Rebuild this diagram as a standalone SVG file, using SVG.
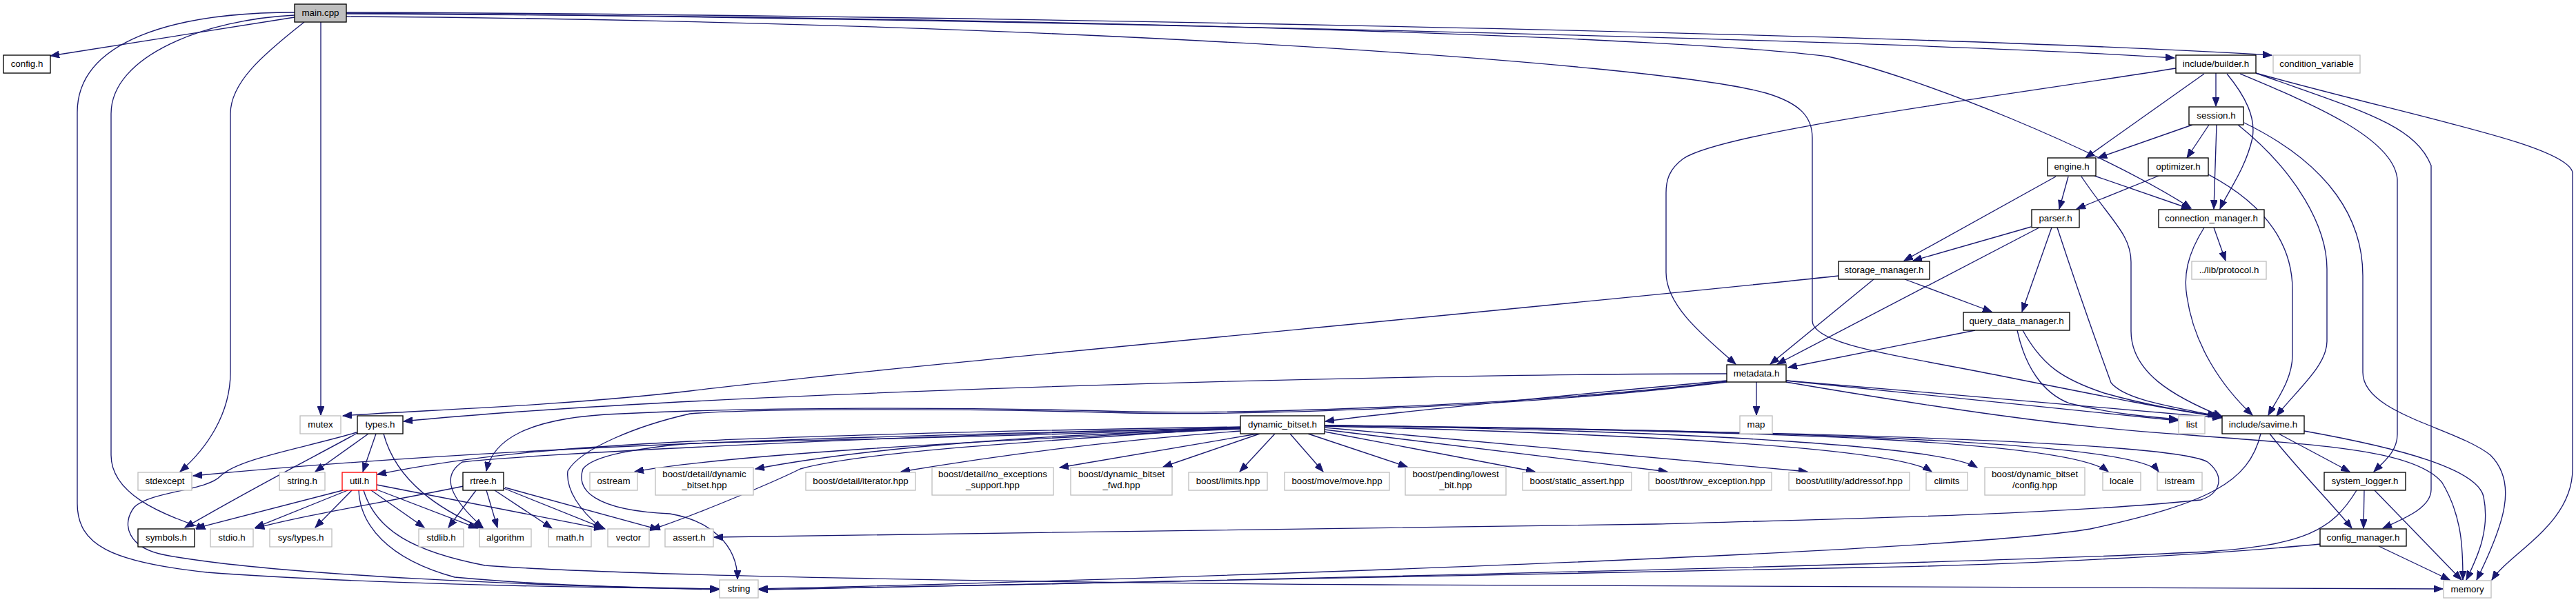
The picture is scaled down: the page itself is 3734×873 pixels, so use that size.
<svg xmlns="http://www.w3.org/2000/svg" width="3734" height="873" viewBox="0 0 3734 873">
<defs>
<style>
.n rect{fill:#fff;stroke:#000;stroke-width:1.33}
.g rect{fill:#fff;stroke:#bfbfbf;stroke-width:1.33}
.r rect{fill:#fff;stroke:#ff0000;stroke-width:1.33}
.m rect{fill:#bfbfbf;stroke:#000;stroke-width:1.33}
text{font-family:"Liberation Sans",Arial,Helvetica,sans-serif;font-size:13.33px;text-anchor:middle;fill:#000}
#edges path{fill:none;stroke:#191970;stroke-width:1.33;marker-end:url(#a)}
</style>
<marker id="a" markerUnits="userSpaceOnUse" markerWidth="14" markerHeight="10" refX="13" refY="5" orient="auto">
<path d="M0,0 L13,5 L0,10 z" fill="#191970" stroke="#191970" stroke-width="1"/>
</marker>
</defs>
<rect width="3734" height="873" fill="#fff"/>
<g id="edges">
<!-- main.cpp -->
<path d="M427,25 L73,81"/>
<path d="M427,18 C250,18 112,60 112,163 L112,730 C112,790 160,815 300,830 C500,845 800,852 1042,854"/>
<path d="M427,22 C300,28 161,80 161,165 L161,660 C161,715 230,745 298,767"/>
<path d="M441,32 C380,80 334,120 334,165 L334,540 C334,600 300,650 261,684"/>
<path d="M465,32 L465,602"/>
<path d="M502,18 C1200,20 2700,45 3293,80"/>
<path d="M502,19 C1300,25 2700,55 3152,84"/>
<path d="M502,20 C1600,25 2450,55 2650,82 C2780,110 3050,220 3176,302"/>
<path d="M502,24 C1500,30 2400,90 2560,135 C2610,150 2627,170 2627,200 L2627,465 C2627,500 2750,515 2900,545 C3050,575 3150,595 3221,605"/>
<!-- builder -->
<path d="M3212,106 L3212,154"/>
<path d="M3195,107 L3023,229"/>
<path d="M3228,107 C3255,140 3270,170 3265,200 C3255,245 3228,280 3218,303"/>
<path d="M3154,99 C2900,140 2500,190 2440,230 C2420,245 2415,260 2415,280 L2415,395 C2415,440 2460,480 2516,528"/>
<path d="M3247,107 C3350,150 3470,200 3475,260 L3475,630 C3475,655 3455,670 3441,684"/>
<path d="M3270,106 C3420,160 3500,180 3524,240 L3524,710 C3524,735 3490,750 3454,766"/>
<path d="M3270,106 C3500,170 3720,210 3729,250 L3729,680 C3729,760 3640,800 3612,841"/>
<!-- session -->
<path d="M3178,181 L3041,229"/>
<path d="M3202,181 L3170,229"/>
<path d="M3213,181 L3209,303"/>
<path d="M3244,181 C3330,250 3373,330 3373,390 L3373,495 C3373,530 3330,565 3300,603"/>
<path d="M3253,178 C3380,240 3425,320 3425,400 L3425,540 C3425,600 3560,620 3610,660 C3650,700 3630,760 3590,841"/>
<!-- engine -->
<path d="M2980,256 L2760,378"/>
<path d="M2998,256 L2985,303"/>
<path d="M3036,255 L3175,303"/>
<path d="M3017,256 C3060,320 3089,340 3089,380 L3089,480 C3089,540 3150,575 3221,604"/>
<!-- optimizer -->
<path d="M3129,255 L3010,303"/>
<path d="M3201,253 C3290,300 3323,360 3323,420 L3323,515 C3323,550 3300,580 3288,602"/>
<!-- parser -->
<path d="M2944,329 L2773,378"/>
<path d="M2956,330 L2576,528"/>
<path d="M2974,330 L2931,452"/>
<path d="M2982,330 C3005,400 3040,500 3060,555 C3080,580 3150,590 3213,603"/>
<!-- connection_manager -->
<path d="M3209,330 L3226,378"/>
<path d="M3195,330 C3170,370 3165,400 3170,430 C3180,500 3220,560 3265,602"/>
<!-- storage_manager -->
<path d="M2665,400 C2200,450 1300,530 1000,567 C800,590 600,595 497,603"/>
<path d="M2716,405 L2566,528"/>
<path d="M2761,405 L2887,452"/>
<!-- query_data_manager -->
<path d="M2863,479 L2592,533"/>
<path d="M2924,479 C2935,530 2960,570 3000,585 C3060,600 3120,605 3157,608"/>
<path d="M2932,479 C2960,530 2990,550 3050,570 C3120,590 3180,598 3220,604"/>
<!-- metadata -->
<path d="M2546,554 L2546,602"/>
<path d="M2589,552 C2800,575 3000,595 3157,610"/>
<path d="M2589,552 C2800,570 3050,590 3220,606"/>
<path d="M2589,554 C2800,590 3000,620 3162,630 C3350,645 3500,650 3540,700 C3570,750 3570,800 3570,841"/>
<path d="M2503,542 C2000,542 1000,570 585,611"/>
<path d="M2503,552 C2300,570 2000,600 1921,611"/>
<path d="M2503,553 C2200,590 1800,600 1638,597 C1400,590 1100,590 900,600 C760,605 714,640 705,683"/>
<path d="M2503,554 C2200,592 1800,602 1638,599 C1400,592 1100,592 1000,600 C925,617 842,650 823,683 C820,710 840,740 873,767"/>
<path d="M1798,619 C1400,625 1100,635 1000,640 C850,648 700,657 547,688"/>
<!-- dynamic_bitset left -->
<path d="M1798,620 C1400,630 800,640 280,690"/>
<path d="M1798,621 C1300,630 750,660 670,670 C640,690 650,720 700,765"/>
<path d="M1798,622 C1400,640 1050,660 920,684"/>
<path d="M1798,621 C1400,635 1100,640 1000,643 C925,650 860,660 845,680 C835,710 860,740 971,745 C1030,755 1069,790 1069,840"/>
<path d="M1798,620 C1500,640 1250,655 1160,680 C1120,700 1000,750 944,768"/>
<path d="M1798,622 C1500,630 1250,650 1095,680"/>
<path d="M1798,625 C1600,640 1450,660 1306,684"/>
<path d="M1823,629 L1536,678"/>
<path d="M1826,629 L1686,677"/>
<path d="M1848,629 L1797,684"/>
<path d="M1870,629 L1918,684"/>
<path d="M1896,629 L2040,677"/>
<path d="M1920,626 L2225,684"/>
<path d="M1920,623 L2417,684"/>
<path d="M1920,620 L2620,684"/>
<path d="M1920,618 C2400,630 2750,650 2800,684"/>
<path d="M1920,617 C2500,625 2820,650 2866,678"/>
<path d="M1920,617 C2600,625 3000,640 3056,684"/>
<path d="M1920,617 C2700,625 3100,645 3129,684"/>
<path d="M1920,617 C2600,625 3150,640 3200,670 C3225,690 3220,715 3190,725 C3000,745 2700,752 2400,760 C1800,770 1200,778 1035,779"/>
<!-- types.h -->
<path d="M518,628 C460,660 380,700 268,765"/>
<path d="M534,629 L457,684"/>
<path d="M545,629 L526,684"/>
<path d="M556,629 C575,700 640,740 700,766"/>
<path d="M517,627 C440,650 345,665 320,690 C300,712 220,712 195,735 C175,760 185,795 240,805 C400,835 800,850 1042,855"/>
<!-- util.h -->
<path d="M497,711 L284,766"/>
<path d="M504,711 L370,765"/>
<path d="M510,711 L457,765"/>
<path d="M538,711 L615,765"/>
<path d="M546,710 L692,766"/>
<path d="M546,703 L874,767"/>
<path d="M520,711 C522,760 560,810 659,837 C800,850 950,853 1042,854"/>
<path d="M527,711 C545,770 600,800 703,820 C900,835 1500,845 2000,848 C2700,852 3300,854 3541,854"/>
<!-- rtree.h -->
<path d="M672,705 C550,730 450,745 370,766"/>
<path d="M690,711 L650,765"/>
<path d="M705,711 L721,765"/>
<path d="M717,711 L800,766"/>
<path d="M730,708 L877,767"/>
<path d="M732,707 L955,768"/>
<!-- include/savime.h -->
<path d="M3303,629 L3406,684"/>
<path d="M3290,629 C3330,680 3380,730 3409,766"/>
<path d="M3340,625 C3480,650 3590,680 3600,720 C3610,770 3590,810 3575,841"/>
<path d="M3277,629 C3260,700 3200,730 3030,767 C2800,805 1500,845 1100,854"/>
<!-- system_logger -->
<path d="M3427,711 L3426,766"/>
<path d="M3442,711 L3568,841"/>
<path d="M3416,711 C3380,770 3340,790 3200,800 C2800,820 1500,848 1100,855"/>
<!-- config_manager -->
<path d="M3448,792 L3551,841"/>
<path d="M3363,789 C3200,805 2900,820 2700,823 C2000,835 1300,850 1100,855"/>
</g>
<g id="main_cpp" class="m"><rect x="427" y="6" width="75" height="26"/><text x="464.5" y="23">main.cpp</text></g>
<g id="config_h" class="n"><rect x="5" y="80" width="68" height="26"/><text x="39" y="97">config.h</text></g>
<g id="builder_h" class="n"><rect x="3154" y="80" width="116" height="26"/><text x="3212" y="97">include/builder.h</text></g>
<g id="condition_variable" class="g"><rect x="3295" y="80" width="126" height="26"/><text x="3358" y="97">condition_variable</text></g>
<g id="session_h" class="n"><rect x="3173" y="155" width="79" height="26"/><text x="3212.5" y="172">session.h</text></g>
<g id="engine_h" class="n"><rect x="2968" y="229" width="70" height="26"/><text x="3003" y="246">engine.h</text></g>
<g id="optimizer_h" class="n"><rect x="3114" y="229" width="87" height="26"/><text x="3157.5" y="246">optimizer.h</text></g>
<g id="parser_h" class="n"><rect x="2945" y="304" width="69" height="26"/><text x="2979.5" y="321">parser.h</text></g>
<g id="connection_manager_h" class="n"><rect x="3129" y="304" width="153" height="26"/><text x="3205.5" y="321">connection_manager.h</text></g>
<g id="protocol_h" class="g"><rect x="3177" y="379" width="108" height="26"/><text x="3231" y="396">../lib/protocol.h</text></g>
<g id="storage_manager_h" class="n"><rect x="2665" y="379" width="132" height="26"/><text x="2731" y="396">storage_manager.h</text></g>
<g id="query_data_manager_h" class="n"><rect x="2846" y="453" width="154" height="26"/><text x="2923" y="470">query_data_manager.h</text></g>
<g id="metadata_h" class="n"><rect x="2503" y="529" width="86" height="25"/><text x="2546" y="546">metadata.h</text></g>
<g id="mutex" class="g"><rect x="435" y="603" width="59" height="26"/><text x="464.5" y="620">mutex</text></g>
<g id="types_h" class="n"><rect x="518" y="603" width="66" height="26"/><text x="551" y="620">types.h</text></g>
<g id="dynamic_bitset_h" class="n"><rect x="1798" y="603" width="122" height="26"/><text x="1859" y="620">dynamic_bitset.h</text></g>
<g id="map" class="g"><rect x="2522" y="603" width="47" height="26"/><text x="2545.5" y="620">map</text></g>
<g id="list" class="g"><rect x="3158" y="603" width="38" height="26"/><text x="3177" y="620">list</text></g>
<g id="savime_h" class="n"><rect x="3221" y="603" width="119" height="26"/><text x="3280.5" y="620">include/savime.h</text></g>
<g id="stdexcept" class="g"><rect x="200" y="685" width="78" height="26"/><text x="239" y="702">stdexcept</text></g>
<g id="string_h" class="g"><rect x="405" y="685" width="66" height="26"/><text x="438" y="702">string.h</text></g>
<g id="util_h" class="r"><rect x="496" y="685" width="50" height="26"/><text x="521" y="702">util.h</text></g>
<g id="rtree_h" class="n"><rect x="671" y="685" width="59" height="26"/><text x="700.5" y="702">rtree.h</text></g>
<g id="ostream" class="g"><rect x="855" y="685" width="69" height="26"/><text x="889.5" y="702">ostream</text></g>
<g id="boost_detail_dynamic_bitset" class="g"><rect x="950" y="678" width="142" height="40"/><text x="1021" y="692">boost/detail/dynamic</text><text x="1021" y="708">_bitset.hpp</text></g>
<g id="boost_detail_iterator" class="g"><rect x="1168" y="685" width="159" height="26"/><text x="1247.5" y="702">boost/detail/iterator.hpp</text></g>
<g id="boost_no_exceptions" class="g"><rect x="1351" y="678" width="176" height="40"/><text x="1439" y="692">boost/detail/no_exceptions</text><text x="1439" y="708">_support.hpp</text></g>
<g id="boost_dynamic_bitset_fwd" class="g"><rect x="1552" y="678" width="147" height="40"/><text x="1625.5" y="692">boost/dynamic_bitset</text><text x="1625.5" y="708">_fwd.hpp</text></g>
<g id="boost_limits" class="g"><rect x="1723" y="685" width="114" height="26"/><text x="1780" y="702">boost/limits.hpp</text></g>
<g id="boost_move" class="g"><rect x="1862" y="685" width="152" height="26"/><text x="1938" y="702">boost/move/move.hpp</text></g>
<g id="boost_lowest_bit" class="g"><rect x="2037" y="678" width="146" height="40"/><text x="2110" y="692">boost/pending/lowest</text><text x="2110" y="708">_bit.hpp</text></g>
<g id="boost_static_assert" class="g"><rect x="2207" y="685" width="158" height="26"/><text x="2286" y="702">boost/static_assert.hpp</text></g>
<g id="boost_throw_exception" class="g"><rect x="2390" y="685" width="178" height="26"/><text x="2479" y="702">boost/throw_exception.hpp</text></g>
<g id="boost_addressof" class="g"><rect x="2593" y="685" width="175" height="26"/><text x="2680.5" y="702">boost/utility/addressof.hpp</text></g>
<g id="climits" class="g"><rect x="2792" y="685" width="60" height="26"/><text x="2822" y="702">climits</text></g>
<g id="boost_dynamic_bitset_config" class="g"><rect x="2877" y="678" width="145" height="40"/><text x="2949.5" y="692">boost/dynamic_bitset</text><text x="2949.5" y="708">/config.hpp</text></g>
<g id="locale" class="g"><rect x="3048" y="685" width="55" height="26"/><text x="3075.5" y="702">locale</text></g>
<g id="istream" class="g"><rect x="3127" y="685" width="65" height="26"/><text x="3159.5" y="702">istream</text></g>
<g id="system_logger_h" class="n"><rect x="3369" y="685" width="118" height="26"/><text x="3428" y="702">system_logger.h</text></g>
<g id="symbols_h" class="n"><rect x="200" y="767" width="82" height="26"/><text x="241" y="784">symbols.h</text></g>
<g id="stdio_h" class="g"><rect x="305" y="767" width="62" height="26"/><text x="336" y="784">stdio.h</text></g>
<g id="sys_types_h" class="g"><rect x="391" y="767" width="90" height="26"/><text x="436" y="784">sys/types.h</text></g>
<g id="stdlib_h" class="g"><rect x="607" y="767" width="65" height="26"/><text x="639.5" y="784">stdlib.h</text></g>
<g id="algorithm" class="g"><rect x="695" y="767" width="75" height="26"/><text x="732.5" y="784">algorithm</text></g>
<g id="math_h" class="g"><rect x="795" y="767" width="62" height="26"/><text x="826" y="784">math.h</text></g>
<g id="vector" class="g"><rect x="881" y="767" width="60" height="26"/><text x="911" y="784">vector</text></g>
<g id="assert_h" class="g"><rect x="964" y="767" width="70" height="26"/><text x="999" y="784">assert.h</text></g>
<g id="config_manager_h" class="n"><rect x="3363" y="767" width="125" height="25"/><text x="3425.5" y="784">config_manager.h</text></g>
<g id="string" class="g"><rect x="1043" y="841" width="56" height="26"/><text x="1071" y="858">string</text></g>
<g id="memory" class="g"><rect x="3542" y="842" width="69" height="25"/><text x="3576.5" y="859">memory</text></g>
</svg>
